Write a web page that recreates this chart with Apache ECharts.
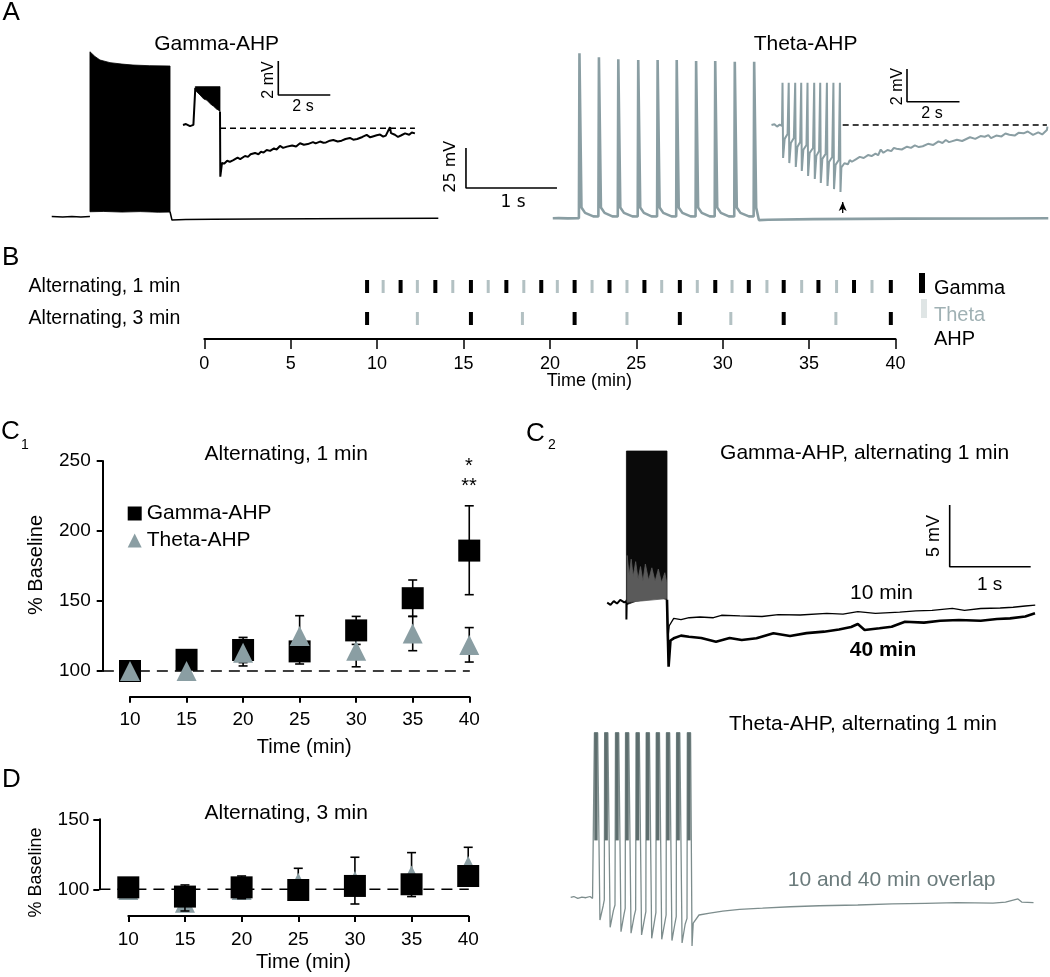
<!DOCTYPE html>
<html><head><meta charset="utf-8">
<script src="https://cdn.jsdelivr.net/npm/echarts@6/dist/echarts.min.js"></script>
<style>html,body{margin:0;padding:0;background:#fff}#c{width:1050px;height:977px}</style>
</head><body><div id="c"></div>
<script>
// ================= DATA =================
// Panel A: example traces (time in s, membrane potential in mV)
const aGammaPre = [[0.129,-71.6],[0.25,-71.8],[0.35,-71.5],[0.45,-71.8],[0.549,-71.6]];
const aGammaBlock = [[0.549,-68.6],[0.549,31.4],[0.603,28.5],[0.659,26.25],[0.769,24.6],[0.9,23.7],[1.022,23.1],[1.2,22.7],[1.429,22.5],[1.429,-68.8],[1.3,-68.9],[1.1,-68.5],[0.9,-68.8],[0.7,-68.4]];
const aGammaPost = [[1.429,-68.6],[1.45,-73.75],[1.6,-73.5],[1.9,-73.3],[2.4,-73.1],[3.0,-72.9],[3.6,-72.8],[4.377,-72.7]];
const aThetaMain = [
 [5.635,-72.7],[5.7,-72.6],[5.8,-72.75],[5.922,-72.6],
 [5.928,30.4],[5.95,-66],[5.99,-69.3],[6.08,-71.5],
 [6.136,-71.6],[6.142,27.9],[6.164,-66],[6.204,-69.3],[6.29,-71.5],
 [6.349,-71.6],[6.355,26.7],[6.377,-66],[6.417,-69.3],[6.51,-71.5],
 [6.568,-71.6],[6.574,26.25],[6.596,-66],[6.636,-69.3],[6.72,-71.5],
 [6.781,-71.6],[6.787,26.25],[6.809,-66],[6.849,-69.3],[6.94,-71.5],
 [6.991,-71.6],[6.997,26.25],[7.019,-66],[7.059,-69.3],[7.15,-71.5],
 [7.204,-71.6],[7.21,25.6],[7.232,-66],[7.272,-69.3],[7.36,-71.5],
 [7.414,-71.6],[7.42,25.6],[7.442,-66],[7.482,-69.3],[7.57,-71.5],
 [7.629,-71.6],[7.635,25.2],[7.657,-66],[7.697,-69.3],[7.79,-71.5],
 [7.842,-71.6],[7.848,25.2],[7.87,-66],[7.9,-73.8],[8.0,-73.6],[8.5,-73.2],[9.5,-72.9],[10.5,-72.8],[11.08,-72.7]
];
const aScale25 = [[4.681,-28.75],[4.681,-53.75],[5.681,-53.75]];
// Gamma inset (s, mV)
const aGInsetPre = [[0.5,3.82],[0.615,3.88],[0.77,3.76],[0.9,3.83],[0.973,3.79],[0.973,6.0]];
const aGInsetBlock = [[0.973,6.08],[1.923,6.08],[1.923,4.61],[1.86,4.71],[1.8,4.75],[1.667,4.94],[1.6,5.0],[1.41,5.29],[1.3,5.35],[1.154,5.59],[1.027,5.78],[0.973,5.85]];
const aGInsetPost = [[1.923,4.61],[1.935,0.78],[2.0,1.59],[2.08,1.55],[2.2,1.72],[2.3,1.65],[2.436,1.76],[2.6,1.9],[2.7,1.82],[2.885,2.0],[3.0,1.95],[3.1,2.1],[3.27,2.18],[3.4,2.1],[3.5,2.25],[3.6,2.2],[3.72,2.35],[3.85,2.3],[4.0,2.45],[4.1,2.38],[4.23,2.59],[4.35,2.48],[4.5,2.55],[4.7,2.62],[4.85,2.56],[5.0,2.75],[5.15,2.66],[5.3,2.7],[5.5,2.82],[5.6,2.74],[5.77,2.85],[5.9,2.78],[6.0,2.8],[6.15,2.9],[6.28,2.94],[6.45,2.85],[6.6,2.9],[6.75,3.0],[6.92,3.06],[7.05,2.96],[7.2,3.0],[7.4,3.12],[7.565,3.24],[7.7,3.1],[7.8,3.15],[7.95,3.22],[8.08,3.26],[8.2,3.14],[8.3,3.2],[8.46,3.7],[8.5,3.35],[8.65,3.25],[8.77,3.12],[8.9,3.22],[9.04,3.33],[9.2,3.25],[9.3,3.38],[9.42,3.33]];
const aGInsetDash = [[1.923,3.63],[9.42,3.63]];
const aGInsetScale = [[4.165,7.59],[4.165,5.59],[6.165,5.59]];
// Theta inset (s, mV)
const aTInset = [
 [0.438,5.2],[0.55,5.25],[0.65,5.1],[0.75,5.22],[0.838,5.15],
 [0.85,5.15],[0.858,7.786],[0.88,3.18],[0.94,4.35],[1.05,4.65],
 [1.086,4.65],[1.094,7.786],[1.116,2.87],[1.176,4.1],[1.29,4.40],
 [1.333,4.40],[1.341,7.786],[1.363,2.63],[1.423,3.86],[1.53,4.16],
 [1.562,4.16],[1.57,7.786],[1.592,2.39],[1.652,3.68],[1.77,3.98],
 [1.802,3.98],[1.81,7.786],[1.832,2.08],[1.892,3.49],[2.02,3.79],
 [2.057,3.79],[2.065,7.786],[2.087,1.90],[2.147,3.31],[2.25,3.61],
 [2.286,3.61],[2.294,7.786],[2.316,1.65],[2.376,3.13],[2.5,3.43],
 [2.541,3.43],[2.549,7.786],[2.571,1.47],[2.631,2.94],[2.75,3.24],
 [2.789,3.24],[2.797,7.786],[2.819,1.28],[2.879,2.76],[3.0,3.06],
 [3.036,3.06],[3.044,7.786],[3.066,1.10],[3.1,2.6],[3.215,2.86],[3.35,2.8],[3.42,3.05],[3.5,2.95],[3.65,3.1],[3.72,2.98],[3.8,3.25],[3.95,3.18],[4.114,3.36],[4.25,3.3],[4.4,3.45],[4.5,3.35],[4.6,3.7],[4.7,3.5],[4.857,3.67],[5.0,3.6],[5.1,3.8],[5.2,3.75],[5.4,3.7],[5.6,3.87],[5.75,3.8],[5.9,3.95],[6.05,3.85],[6.2,3.9],[6.4,4.05],[6.6,3.98],[6.8,4.2],[6.95,4.1],[7.078,4.28],[7.2,4.15],[7.3,4.2],[7.5,4.3],[7.7,4.22],[8.0,4.45],[8.2,4.35],[8.4,4.52],[8.56,4.48],[8.7,4.58],[8.8,4.4],[9.0,4.55],[9.2,4.5],[9.35,4.68],[9.5,4.6],[9.7,4.55],[9.85,4.72],[10.04,4.69],[10.2,4.8],[10.4,4.6],[10.6,4.75],[10.75,4.62],[10.93,4.89],[10.95,5.1]
];
const aTInsetDash = [[3.15,5.2],[10.93,5.2]];
const aTInsetScale = [[5.6,8.62],[5.6,6.62],[7.6,6.62]];
const aTInsetArrow = [[3.15,-0.18],[3.15,0.49]];

// Panel B: stimulation times (min)
const bRows = ['Alternating, 3 min','Alternating, 1 min'];
const b1Gamma = [9.42,11.36,13.37,15.43,17.48,19.50,21.43,23.45,25.47,27.52,29.57,31.51,33.53,35.54,37.60,39.73];
const b1Theta = [10.35,12.33,14.38,16.43,18.49,20.43,22.44,24.46,26.47,28.53,30.54,32.56,34.57,36.59,38.64];
const b3Gamma = [9.42,15.43,21.43,27.52,33.53,39.73];
const b3Theta = [12.33,18.41,24.46,30.47,36.55];

// Panels C1 / D: % baseline
const minutes = [10,15,20,25,30,35,40];
const c1GammaMean = [100,108,115,114,129,152,186];
const c1ThetaMean = [100,100,113,125,114.5,126.7,118.6];
const c1GammaErr = [[20,106,124],[25,105,123],[30,119,139],[35,139,165],[40,154.5,218]];
const c1ThetaErr = [[20,103.6,122.4],[25,110.5,139.5],[30,103,126],[35,114.5,139],[40,106.4,131]];
const dGammaMean = [101.4,94.8,101.4,99.5,102.4,103.6,109.5];
const dThetaMean = [99.5,90.4,99.5,104.7,105.9,109.9,116.6];
const dGammaErr = [[15,84.5,103.1],[20,93.3,109.5]];
const dThetaErr = [[25,94.4,115],[30,89.5,122.9],[35,94.8,126.2],[40,102.4,130]];
const c1Baseline = [[7.6,100],[40.05,100]];
const dBaseline = [[7.45,100],[40.05,100]];

// Panel C2 traces (s, mV)
const c2gPre = [[0.089,-63.73],[0.13,-63.9],[0.17,-63.6],[0.21,-63.8],[0.25,-63.5],[0.3,-63.7],[0.326,-63.6],[0.326,-65.1],[0.33,-63.5]];
const c2gBlock = [[0.326,-63.9],[0.326,-51.43],[0.827,-51.43],[0.827,-63.5],[0.75,-63.3],[0.6,-63.45],[0.45,-63.6]];
const c2gLower = [[0.335,-59.9],[0.36,-61.5],[0.385,-60.2],[0.41,-61.6],[0.44,-60.4],[0.47,-61.8],[0.5,-60.8],[0.53,-62],[0.56,-60.6],[0.6,-61.9],[0.64,-60.9],[0.68,-62],[0.72,-61],[0.76,-62.1],[0.8,-61.3],[0.82,-62],[0.82,-63.4],[0.335,-63.7]];
const c2g10 = [[0.827,-63.5],[0.835,-66.84],[0.855,-65.6],[0.91,-65.0],[1.0,-65.1],[1.1,-64.95],[1.235,-64.89],[1.4,-64.95],[1.5,-64.75],[1.728,-64.8],[2.0,-64.85],[2.2,-64.7],[2.47,-64.73],[2.8,-64.6],[3.0,-64.65],[3.183,-64.46],[3.4,-64.6],[3.7,-64.49],[3.9,-64.4],[4.1,-64.35],[4.35,-64.19],[4.5,-64.35],[4.7,-64.2],[4.94,-64.16],[5.1,-64.1],[5.25,-64.0],[5.373,-63.92]];
const c2g40 = [[0.827,-63.5],[0.847,-68.92],[0.87,-66.8],[0.91,-66.62],[1.0,-66.4],[1.099,-66.49],[1.25,-66.6],[1.432,-66.89],[1.6,-66.6],[1.75,-66.75],[1.932,-66.62],[2.141,-66.21],[2.346,-66.43],[2.55,-66.2],[2.765,-66.08],[2.95,-65.9],[3.1,-65.7],[3.183,-65.46],[3.267,-65.94],[3.45,-65.8],[3.6,-65.68],[3.765,-65.27],[4.0,-65.35],[4.2,-65.2],[4.432,-65.13],[4.7,-65.2],[4.9,-65.05],[5.062,-65.0],[5.25,-64.85],[5.37,-64.59]];
const c2gScale = [[4.317,-55.81],[4.317,-60.81],[5.317,-60.81]];
const c2ThetaSpikes = [0.423,0.549,0.683,0.807,0.937,1.062,1.186,1.312,1.437,1.570];
const c2ThetaSpikeTop = -51.57;
const c2ThetaSpikeShoulder = -60.3;
const c2Theta = [
 [0.132,-64.92],[0.17,-64.85],[0.22,-65.0],[0.27,-64.9],[0.32,-64.95],[0.37,-64.85],[0.402,-65.0],
 [0.423,-64.95],[0.425,-51.57],[0.465,-51.57],[0.493,-66.76],[0.533,-65.6],[0.547,-65.13],
 [0.549,-65.13],[0.551,-51.57],[0.591,-51.57],[0.619,-67.35],[0.659,-66.0],[0.679,-65.54],
 [0.683,-65.54],[0.685,-51.57],[0.725,-51.57],[0.753,-67.70],[0.79,-66.3],[0.805,-65.81],
 [0.807,-65.81],[0.809,-51.57],[0.849,-51.57],[0.877,-67.83],[0.917,-66.4],[0.934,-65.94],
 [0.937,-65.94],[0.939,-51.57],[0.979,-51.57],[1.007,-67.97],[1.045,-66.6],[1.06,-66.08],
 [1.062,-66.08],[1.064,-51.57],[1.104,-51.57],[1.132,-68.24],[1.17,-66.7],[1.184,-66.16],
 [1.186,-66.16],[1.188,-51.57],[1.228,-51.57],[1.256,-68.32],[1.295,-66.9],[1.31,-66.35],
 [1.312,-66.35],[1.314,-51.57],[1.354,-51.57],[1.382,-68.42],[1.42,-67.0],[1.435,-66.49],
 [1.437,-66.49],[1.439,-51.57],[1.479,-51.57],[1.507,-68.62],[1.545,-67.1],[1.568,-66.62],
 [1.570,-66.62],[1.572,-51.57],[1.612,-51.57],[1.63,-68.86],[1.645,-67.0],[1.716,-66.35],[1.85,-66.2],[2.009,-66.03],[2.217,-65.89],[2.5,-65.8],[2.843,-65.68],[3.2,-65.6],[3.677,-65.54],[4.1,-65.45],[4.511,-65.40],[4.9,-65.35],[5.346,-65.38],[5.5,-65.3],[5.654,-65.05],[5.7,-65.3],[5.846,-65.35]
];

// ================= STYLE / LAYOUT =================
const FONT = "'Liberation Sans', Arial, Helvetica, sans-serif";
const BLACK = '#000';
const THETA = '#8a9ea3';
const THETA_DARK = '#5e6e6e';

const grids = [
  {left:40, top:40, width:1010, height:190},        //0 A main
  {left:170, top:50, width:260, height:140},        //1 A gamma inset
  {left:760, top:60, width:300, height:160},        //2 A theta inset
  {left:204.3, top:270.5, width:691.2, height:64},  //3 B
  {left:102.7, top:461, width:377.3, height:235.7}, //4 C1 plot
  {left:130, top:680, width:339.3, height:16.7},    //5 C1 x axis
  {left:102.7, top:461, width:20, height:210},      //6 C1 y axis
  {left:99.3, top:819.3, width:380.7, height:96.7}, //7 D plot
  {left:128.3, top:900, width:340, height:16},      //8 D x axis
  {left:99.3, top:819.3, width:20, height:70},      //9 D y axis
  {left:600, top:440, width:440, height:240},       //10 C2 gamma
  {left:560, top:720, width:480, height:240}        //11 C2 theta
].map(g => Object.assign({containLabel:false, outerBoundsMode:'none', show:false}, g));

function hid(type, i, min, max){ return {type:'value', gridIndex:i, min:min, max:max, show:false}; }
const axLine = {show:true, onZero:false, lineStyle:{color:BLACK, width:2}};
const axTick = {show:true, length:6, lineStyle:{color:BLACK, width:2}};
const xAxes = [
  hid('x',0,0,11.0989), hid('x',1,0,10), hid('x',2,0,11.4286),
  {type:'value', gridIndex:3, min:0, max:40, interval:5, offset:4.5, position:'bottom', axisLine:axLine,
   axisTick:{show:true, length:10, lineStyle:{color:BLACK, width:1.5}}, splitLine:{show:false},
   axisLabel:{show:true, color:BLACK, fontSize:18, margin:16, fontFamily:FONT}},
  hid('x',4,7.586,40.95),
  {type:'value', gridIndex:5, min:10, max:40, interval:5, axisLine:axLine, axisTick:axTick,
   splitLine:{show:false}, axisLabel:{color:BLACK, fontSize:19, margin:14, fontFamily:FONT}},
  hid('x',6,0,1),
  hid('x',7,7.4405,41.04),
  {type:'value', gridIndex:8, min:10, max:40, interval:5, axisLine:axLine, axisTick:axTick,
   splitLine:{show:false}, axisLabel:{color:BLACK, fontSize:19, margin:14, fontFamily:FONT}},
  hid('x',9,0,1),
  hid('x',10,0,5.432), hid('x',11,0,5.926)
];
const yAxes = [
  hid('y',0,-80,38.75), hid('y',1,0,8.2353), hid('y',2,-0.6116,9.1743),
  {type:'category', gridIndex:3, data:bRows, axisLine:{show:false}, axisTick:{show:false},
   axisLabel:{color:BLACK, fontSize:19.5, margin:24, fontFamily:FONT}},
  hid('y',4,81.64,250), hid('y',5,0,1),
  {type:'value', gridIndex:6, min:100, max:250, interval:50, axisLine:axLine, axisTick:axTick,
   splitLine:{show:false}, axisLabel:{color:BLACK, fontSize:19, margin:12, fontFamily:FONT}},
  hid('y',7,80.93,150), hid('y',8,0,1),
  {type:'value', gridIndex:9, min:100, max:150, interval:50, axisLine:axLine, axisTick:axTick,
   splitLine:{show:false}, axisLabel:{color:BLACK, fontSize:19, margin:10, fontFamily:FONT}},
  hid('y',10,-70,-50.535), hid('y',11,-70,-50.535)
];

function line(i, data, color, width, dash, z){
  return {type:'line', xAxisIndex:i, yAxisIndex:i, data:data, showSymbol:false, symbol:'none',
    silent:true, clip:false, z:z||2, animation:false,
    lineStyle:{color:color, width:width, type:dash||'solid'}};
}
function poly(i, pts, color, z){
  return {type:'custom', xAxisIndex:i, yAxisIndex:i, data:pts, silent:true, clip:false, z:z||2,
    encode:{x:0, y:1},
    renderItem:function(params, api){
      if (params.dataIndex !== 0) return null;
      return {type:'polygon', shape:{points:pts.map(function(p){return api.coord(p);})},
              style:{fill:color, stroke:color, lineWidth:0.8}};
    }};
}
function errBars(i, data, z){
  return {type:'custom', xAxisIndex:i, yAxisIndex:i, data:data, silent:true, z:z, clip:false,
    encode:{x:0, y:[1,2]},
    renderItem:function(params, api){
      const x = api.value(0), lo = api.value(1), hi = api.value(2);
      const a = api.coord([x, hi]), b = api.coord([x, lo]);
      const st = {stroke:BLACK, lineWidth:1.6};
      return {type:'group', children:[
        {type:'line', shape:{x1:a[0], y1:a[1], x2:b[0], y2:b[1]}, style:st},
        {type:'line', shape:{x1:a[0]-4.5, y1:a[1], x2:a[0]+4.5, y2:a[1]}, style:st},
        {type:'line', shape:{x1:b[0]-4.5, y1:b[1], x2:b[0]+4.5, y2:b[1]}, style:st}
      ]};
    }};
}
function marks(i, name, vals, symbol, size, color, z){
  return {type:'scatter', name:name, xAxisIndex:i, yAxisIndex:i, symbol:symbol, symbolSize:size,
    data:minutes.map(function(m,k){return [m, vals[k]];}), itemStyle:{color:color, opacity:1},
    silent:true, z:z, animation:false};
}
function ticks(vals, row, color, w){
  return {type:'scatter', xAxisIndex:3, yAxisIndex:3, symbol:'rect', symbolSize:[w,13],
    data:vals.map(function(t){return [t,row];}), itemStyle:{color:color, opacity:1}, silent:true};
}
// dark upper part of each overlapped theta spike (C2)
const c2SpikeTops = {type:'custom', xAxisIndex:11, yAxisIndex:11, silent:true, clip:false, z:3,
  data:c2ThetaSpikes.map(function(t){return [t, c2ThetaSpikeTop, c2ThetaSpikeShoulder];}),
  encode:{x:0, y:[1,2]},
  renderItem:function(params, api){
    const a = api.coord([api.value(0), api.value(1)]), b = api.coord([api.value(0)+0.042, api.value(2)]);
    return {type:'rect', shape:{x:a[0], y:a[1], width:b[0]-a[0], height:b[1]-a[1]}, style:{fill:THETA_DARK}};
  }};

const series = [
  // A
  line(0, aGammaPre, BLACK, 1.5),
  poly(0, aGammaBlock, BLACK),
  line(0, aGammaPost, BLACK, 1.5),
  line(0, aScale25, BLACK, 1.6),
  line(0, aThetaMain, THETA, 2.6),
  line(1, aGInsetPre, BLACK, 2),
  poly(1, aGInsetBlock, BLACK),
  line(1, aGInsetPost, BLACK, 2),
  line(1, aGInsetDash, BLACK, 1.5, [6,4]),
  line(1, aGInsetScale, BLACK, 1.6),
  line(2, aTInset, THETA, 2),
  line(2, aTInsetDash, BLACK, 1.5, [6,4]),
  line(2, aTInsetScale, BLACK, 1.6),
  {type:'line', xAxisIndex:2, yAxisIndex:2, silent:true, clip:false, showSymbol:true,
   lineStyle:{color:BLACK, width:1.3}, itemStyle:{color:BLACK},
   data:[{value:aTInsetArrow[0], symbol:'none'}, {value:aTInsetArrow[1], symbol:'arrow', symbolSize:[6,9]}]},
  // B
  ticks(b1Gamma, 1, BLACK, 4), ticks(b1Theta, 1, '#b3c1c3', 3),
  ticks(b3Gamma, 0, BLACK, 4), ticks(b3Theta, 0, '#b3c1c3', 3),
  // C1
  line(4, c1Baseline, BLACK, 1.5, [11,7], 1),
  errBars(4, c1GammaErr, 2),
  marks(4, 'Gamma-AHP', c1GammaMean, 'rect', 22, BLACK, 3),
  errBars(4, c1ThetaErr, 4),
  marks(4, 'Theta-AHP', c1ThetaMean, 'triangle', 20, THETA, 5),
  // D
  line(7, dBaseline, BLACK, 1.5, [11,7], 1),
  errBars(7, dThetaErr, 2),
  marks(7, 'Theta-AHP ', dThetaMean, 'triangle', 20, THETA, 3),
  errBars(7, dGammaErr, 4),
  marks(7, 'Gamma-AHP ', dGammaMean, 'rect', 22, BLACK, 5),
  // C2
  line(10, c2gPre, BLACK, 2),
  poly(10, c2gBlock, '#0a0a0a'),
  poly(10, c2gLower, '#5a5a5a', 3),
  line(10, c2g10, BLACK, 1.3),
  line(10, c2g40, BLACK, 2.6),
  line(10, c2gScale, BLACK, 1.6),
  line(11, c2Theta, '#7d8d8d', 1.3),
  c2SpikeTops
];

function txt(t, x, y, size, opt){
  opt = opt || {};
  return {type:'text', x:x, y:y, rotation:opt.rot ? Math.PI/2 : 0, z:100, silent:true,
    style:{text:t, fill:opt.color||BLACK, textAlign:opt.align||'center', textVerticalAlign:'middle',
      font:(opt.bold?'bold ':'') + size + 'px ' + (opt.family||FONT)}};
}
const DJ = "'DejaVu Sans', sans-serif";
const graphics = [
  txt('A', 2.5, 12.5, 26, {align:'left'}),
  txt('Gamma-AHP', 216.7, 44.2, 21),
  txt('2 mV', 268.7, 80, 16, {rot:true}),
  txt('2 s', 303, 106.7, 16),
  txt('25 mV', 450.5, 166.7, 16, {rot:true, family:DJ}),
  txt('1 s', 513, 203, 17, {family:DJ}),
  txt('Theta-AHP', 805.6, 44, 21),
  txt('2 mV', 897.6, 86.5, 16, {rot:true}),
  txt('2 s', 932, 114, 16),
  txt('B', 2, 258, 26, {align:'left'}),
  txt('Time (min)', 589.4, 381, 18),
  txt('Gamma', 934, 288, 20, {align:'left'}),
  txt('Theta', 934, 315, 20, {align:'left', color:'#a0b1b4'}),
  txt('AHP', 934, 339.6, 20, {align:'left'}),
  {type:'rect', shape:{x:919, y:273, width:6, height:20}, style:{fill:BLACK}, silent:true},
  {type:'rect', shape:{x:921, y:299, width:6, height:19}, style:{fill:'#dfe5e5'}, silent:true},
  txt('C', 1, 432.3, 26, {align:'left'}),
  txt('1', 21, 445, 14, {align:'left'}),
  txt('Alternating, 1 min', 286.2, 454, 21),
  txt('*', 469, 466, 20),
  txt('**', 469, 486, 20),
  txt('Time (min)', 304.2, 747, 20),
  txt('% Baseline', 36.7, 565, 20, {rot:true}),
  txt('D', 2, 780, 26, {align:'left'}),
  txt('Alternating, 3 min', 286.2, 813, 21),
  txt('Time (min)', 303.5, 962, 20),
  txt('% Baseline', 36, 872.5, 18, {rot:true}),
  txt('C', 526, 434, 26, {align:'left'}),
  txt('2', 548, 445, 14, {align:'left'}),
  txt('Gamma-AHP, alternating 1 min', 864.6, 453, 21),
  txt('5 mV', 934, 536, 18, {rot:true}),
  txt('1 s', 989.6, 585, 19),
  txt('10 min', 881.5, 593, 21),
  txt('40 min', 883, 650, 21, {bold:true}),
  txt('Theta-AHP, alternating 1 min', 863, 724, 21),
  txt('10 and 40 min overlap', 891.6, 880, 21, {color:'#6b7b7c'})
];

const chart = echarts.init(document.getElementById('c'), null, {renderer:'canvas'});
chart.setOption({
  animation:false,
  backgroundColor:'#fff',
  textStyle:{fontFamily:FONT},
  grid:grids, xAxis:xAxes, yAxis:yAxes, series:series,
  legend:{data:[{name:'Gamma-AHP', icon:'rect'}, {name:'Theta-AHP', icon:'triangle'}],
    orient:'vertical', left:127.7, top:503, padding:0, itemWidth:14, itemHeight:14, itemGap:6,
    selectedMode:false, textStyle:{fontSize:21, color:BLACK, fontFamily:FONT}},
  graphic:{elements:graphics}
});
</script></body></html>
